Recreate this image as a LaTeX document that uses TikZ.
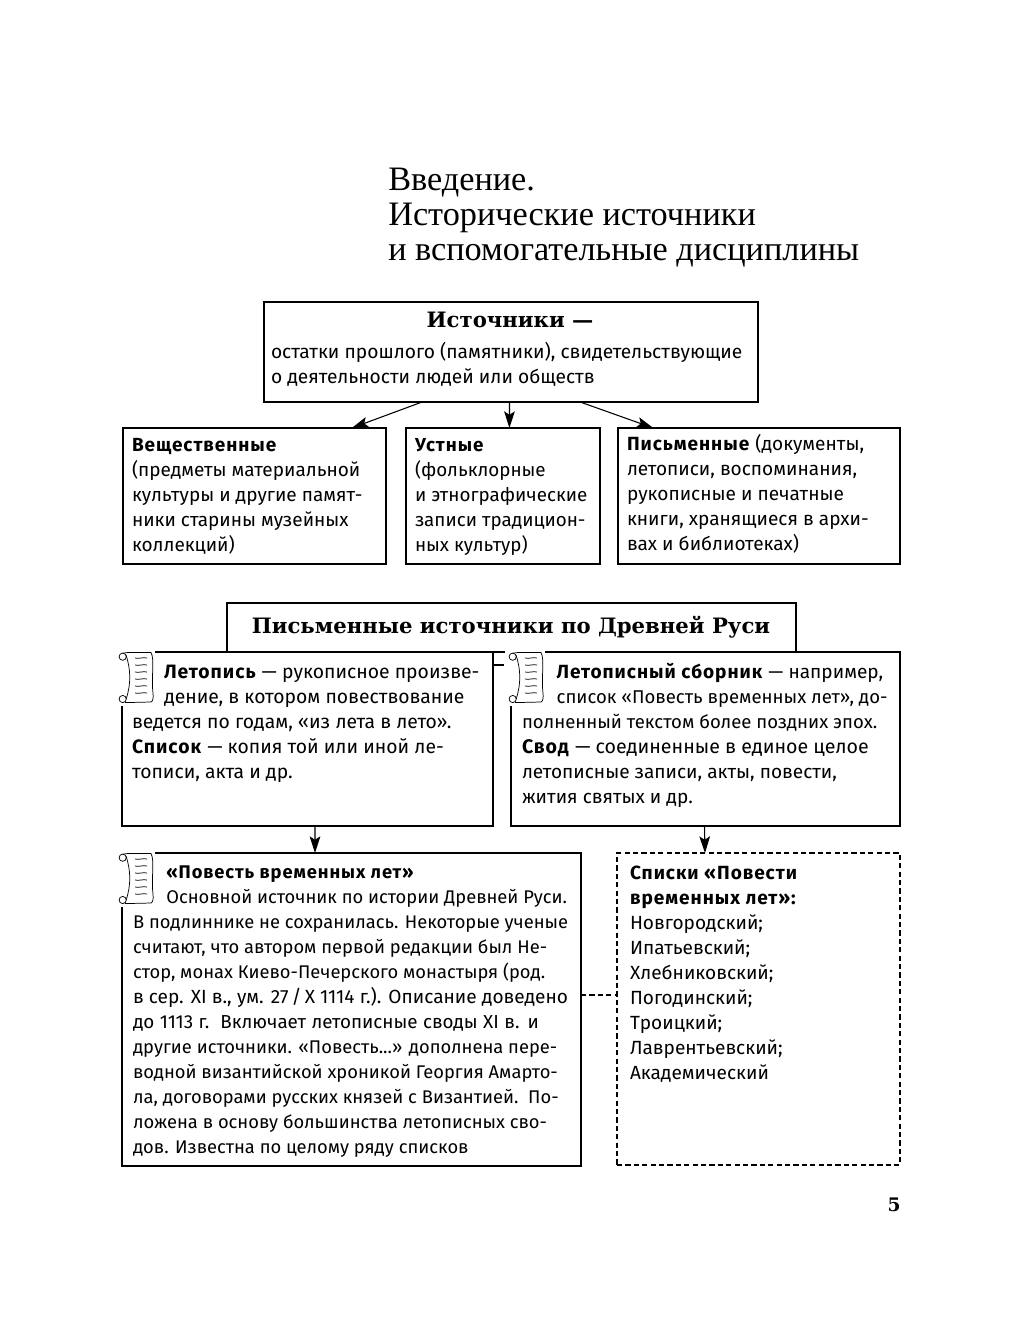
\documentclass[tikz,border=0pt]{standalone}
\usepackage{fontspec}
\usetikzlibrary{arrows.meta,fit,calc}
\setmainfont{Fira Sans}[BoldFeatures={LetterSpace=5}]
\newfontfamily\titlefont{Liberation Serif}
\newfontfamily\headfont{DejaVu Serif}
\tikzset{
  x=.75pt,y=-.75pt,
  boxst/.style={draw=black,line width=.8pt,inner sep=0pt,outer sep=0pt},
  dashbox/.style={boxst,line width=1pt,dash pattern=on 3.9pt off 2.4pt},
  arr/.style={line width=.8pt,-{Stealth[length=12.5pt,width=8pt,inset=2.6pt]}},
  dashlink/.style={line width=.8pt,dash pattern=on 3.9pt off 2.4pt},
  tx/.style={anchor=north west,inner sep=0pt,outer sep=0pt,align=left,font=\fontsize{#1}{18.75}\selectfont},
  tx/.default=14.3,
  ttl/.style={anchor=north west,inner sep=0pt,align=left,font=\titlefont\fontsize{25.7}{26.25}\selectfont},
  hd/.style={anchor=center,inner sep=0pt,font=\headfont\bfseries\fontsize{15.9}{18}\selectfont},
  scr/.style={line width=.55pt},
}
\newcommand{\plainbox}[5]{\node[boxst,fit={(#2,#3)(#4,#5)}] (#1) {};}
\newcommand{\scrollmark}[2]{%
  \fill[white] (#1-3,#2-2) rectangle (#1+36.5,#2+54);
  \begin{scope}[shift={(#1,#2)},scr]
    \draw (4.7,4.7) circle[radius=3.6];
    \draw (4.7,47) circle[radius=3.6];
    \draw (5,1.1) .. controls (7,0.3) and (8,0.5) .. (10,0.5) -- (33,0.5)
      .. controls (37,8) and (33,25) .. (35,41) .. controls (35.5,46) and (35,49) .. (33,50) -- (7,50.6);
    \draw (8,3) .. controls (13,18) and (13,32) .. (8.2,47);
    \foreach \yy in {6,13,20,27,34,41} \draw (17,\yy) .. controls (21,\yy+1) and (25,\yy-1) .. (29,\yy);
  \end{scope}}
\newcommand{\tstrut}{\strut}
\newcommand{\Sz}[2]{{\fontsize{#1}{18.75}\selectfont #2}}
\newcommand{\Ln}[2]{\makebox[#1pt][s]{#2}}
\begin{document}
\begin{tikzpicture}
\useasboundingbox (0,0) rectangle (1034,1329);
\fill[white] (0,0) rectangle (1034,1329);

\node[ttl] (title) at (388,166) {\tstrut Введение.\\Исторические источники\\и вспомогательные дисциплины};

\plainbox{ist}{264}{302}{758}{402}
\node[hd] (isthead) at (510,320) {Источники —};
\node[tx=14.4] (isttext) at (271,340.5) {\tstrut остатки прошлого (памятники), свидетельствующие\\о деятельности людей или обществ};

\plainbox{ves}{123}{428}{386}{564}
\plainbox{ust}{406}{428}{600}{564}
\plainbox{pis}{618}{428}{900}{564}
\node[tx=14.25] (vestext) at (132,433.5) {\tstrut\textbf{Вещественные}\\(предметы материальной\\культуры и другие памят-\\ники старины музейных\\коллекций)};
\node[tx=14.1] (usttext) at (415,433.5) {\tstrut\textbf{Устные}\\(фольклорные\\и этнографические\\записи традицион-\\ных культур)};
\node[tx=14.3] (pistext) at (627,432.5) {\tstrut\textbf{Письменные} (документы,\\летописи, воспоминания,\\рукописные и печатные\\книги, хранящиеся в архи-\\вах и библиотеках)};

\draw[arr] ($(ist.south west)!0.32!(ist.south east)$) -- ($(ves.north west)!0.87!(ves.north east)$);
\draw[arr] ($(ist.south west)!0.497!(ist.south east)$) -- ($(ust.north west)!0.533!(ust.north east)$);
\draw[arr] ($(ist.south west)!0.64!(ist.south east)$) -- ($(pis.north west)!0.125!(pis.north east)$);

\plainbox{pr}{227}{603}{796}{652}
\node[hd] (prhead) at (511,627) {Письменные источники по Древней Руси};

\plainbox{let}{122}{652}{493}{826}
\plainbox{svod}{511}{652}{900}{826}
\plainbox{pov}{122}{853}{581}{1166}
\node[dashbox,fit={(617,853)(900,1165)}] (spi) {};

\draw[boxst] (let.east |- 0,665) -- (504,665);
\scrollmark{118}{652}
\scrollmark{508}{652}
\scrollmark{118}{853}

\node[tx=14.5] (lettext) at (132,660.5) {\tstrut\hspace*{24pt}\textbf{Летопись} — рукописное произве-\\\hspace*{24pt}дение, в котором повествование\\ведется по годам, «из лета в лето».\\\textbf{Список} — копия той или иной ле-\\тописи, акта и др.};
\node[tx=14.3] (svodtext) at (522,660.5) {\tstrut\hspace*{26pt}\textbf{Летописный сборник} — например,\\\hspace*{26pt}\Sz{13.9}{список «Повесть временных лет», до-}\\\Sz{13.9}{полненный текстом более поздних эпох.}\\\Sz{14.7}{\textbf{Свод} — соединенные в единое целое}\\летописные записи, акты, повести,\\жития святых и др.};
\node[tx=13.75] (povtext) at (133,860.5) {\tstrut\hspace*{25pt}\textbf{«Повесть временных лет»}\\\hspace*{25pt}Основной источник по истории Древней Руси.\\В подлиннике не сохранилась. Некоторые ученые\\считают, что автором первой редакции был Не-\\стор, монах Киево-Печерского монастыря (род.\\\Sz{14.3}{\Ln{326.25}{в сер. XI в., ум. 27\,/\,X 1114 г.). Описание доведено}}\\\Sz{14.1}{\Ln{304.5}{до 1113 г.\ \ Включает летописные своды XI в. и}}\\другие источники. «Повесть...» дополнена пере-\\водной византийской хроникой Георгия Амарто-\\ла, договорами русских князей с Византией.\ \ По-\\ложена в основу большинства летописных сво-\\дов. Известна по целому ряду списков};
\node[tx=14.3] (spitext) at (630,861.5) {\tstrut\textbf{Списки «Повести}\\\textbf{временных лет»:}\\Новгородский;\\Ипатьевский;\\Хлебниковский;\\Погодинский;\\Троицкий;\\Лаврентьевский;\\Академический};

\draw[arr] ($(let.south west)!0.5202!(let.south east)$) -- ($(pov.north west)!0.4205!(pov.north east)$);
\draw[arr] ($(svod.south west)!0.4974!(svod.south east)$) -- ($(spi.north west)!0.311!(spi.north east)$);
\draw[dashlink] (pov.east |- 0,995) -- (spi.west |- 0,995);

\node[anchor=center,inner sep=0pt,font=\headfont\bfseries\fontsize{14}{16}\selectfont] (pagenum) at (894,1205) {5};
\end{tikzpicture}
\end{document}
